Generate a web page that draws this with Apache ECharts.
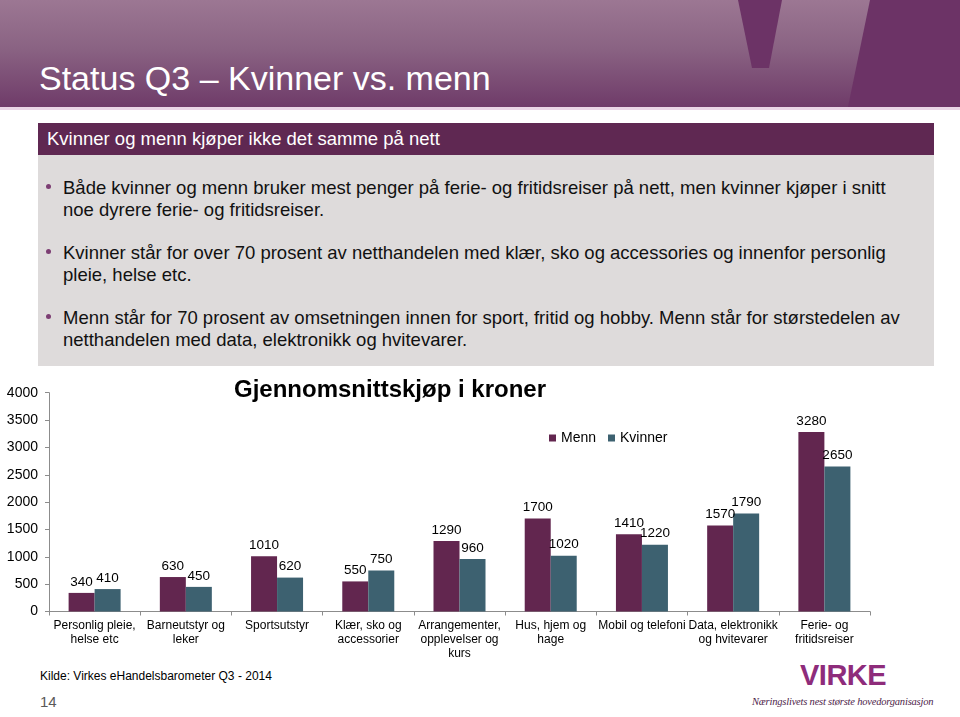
<!DOCTYPE html>
<html>
<head>
<meta charset="utf-8">
<script src="https://cdn.jsdelivr.net/npm/echarts@6/dist/echarts.min.js"></script>
<style>
  html, body { margin:0; padding:0; background:#fff; }
  body { width:960px; height:717px; position:relative; overflow:hidden; font-family:"Liberation Sans", Arial, sans-serif; }
  #hdr { position:absolute; left:0; top:0; width:960px; height:107px; background:linear-gradient(#9c7793 0%, #8a6383 45%, #6f3b69 100%); }
  #hdrline { position:absolute; left:0; top:107px; width:960px; height:3px; background:#ead5e6; }
  #shapes { position:absolute; left:0; top:0; }
  #htitle { position:absolute; left:39px; top:58px; font-size:34px; color:#fff; white-space:nowrap; line-height:40px; }
  #box { position:absolute; left:38px; top:123px; width:896px; height:243px; background:#dedbdb; }
  #boxhead { position:absolute; left:38px; top:123px; width:896px; height:32px; background:#5f2852; }
  #boxhead span { position:absolute; left:9px; top:5px; font-size:18.5px; color:#fff; white-space:nowrap; line-height:22px; }
  .bul { position:absolute; left:63px; font-size:18.5px; line-height:22px; color:#111; white-space:nowrap; }
  .dot { position:absolute; left:46px; width:5px; height:5px; border-radius:50%; background:#7c3e73; }
  #src { position:absolute; left:40px; top:669px; font-size:12px; color:#000; white-space:nowrap; }
  #pg { position:absolute; left:40px; top:693px; font-size:15px; color:#595959; }
  #logo { position:absolute; left:800px; top:659px; font-size:29px; font-weight:bold; color:#8e2c7b; letter-spacing:-0.5px; line-height:32px; }
  #tag { position:absolute; left:752px; top:696px; font-size:10.5px; font-style:italic; color:#4d2349; white-space:nowrap; font-family:"Liberation Serif", serif; letter-spacing:-0.2px; }
  #chart { position:absolute; left:0; top:0; width:960px; height:717px; }
</style>
</head>
<body>
<div id="hdr"></div>
<div id="hdrline"></div>
<svg id="shapes" width="960" height="110">
  <polygon points="738,0 782,0 769,68 752,68" fill="#6c3366"/>
  <polygon points="870,0 960,0 960,107 848,107" fill="#6c3366"/>
</svg>
<div id="htitle">Status Q3 – Kvinner vs. menn</div>
<div id="box"></div>
<div id="boxhead"><span>Kvinner og menn kjøper ikke det samme på nett</span></div>
<div class="dot" style="top:184px"></div>
<div class="bul" style="top:177px">Både kvinner og menn bruker mest penger på ferie- og fritidsreiser på nett, men kvinner kjøper i snitt<br>noe dyrere ferie- og fritidsreiser.</div>
<div class="dot" style="top:249px"></div>
<div class="bul" style="top:242px">Kvinner står for over 70 prosent av netthandelen med klær, sko og accessories og innenfor personlig<br>pleie, helse etc.</div>
<div class="dot" style="top:314px"></div>
<div class="bul" style="top:307px">Menn står for 70 prosent av omsetningen innen for sport, fritid og hobby. Menn står for størstedelen av<br>netthandelen med data, elektronikk og hvitevarer.</div>
<div id="src">Kilde: Virkes eHandelsbarometer Q3 - 2014</div>
<div id="pg">14</div>
<div id="logo">VIRKE</div>
<div id="tag">Næringslivets nest største hovedorganisasjon</div>
<div id="chart"></div>
<script>
const categories = [
  "Personlig pleie,\nhelse etc",
  "Barneutstyr og\nleker",
  "Sportsutstyr",
  "Klær, sko og\naccessorier",
  "Arrangementer,\nopplevelser og\nkurs",
  "Hus, hjem og\nhage",
  "Mobil og telefoni",
  "Data, elektronikk\nog hvitevarer",
  "Ferie- og\nfritidsreiser"
];
const menn = [340, 630, 1010, 550, 1290, 1700, 1410, 1570, 3280];
const kvinner = [410, 450, 620, 750, 960, 1020, 1220, 1790, 2650];
const chartTitle = "Gjennomsnittskjøp i kroner";
const seriesNames = ["Menn", "Kvinner"];

const font = "Liberation Sans";
const chart = echarts.init(document.getElementById('chart'), null, {renderer: 'canvas'});
chart.setOption({
  backgroundColor: 'transparent',
  animation: false,
  title: {
    text: chartTitle, left: 229, top: 373,
    textStyle: { fontFamily: font, fontSize: 24, fontWeight: 'bold', color: '#000' }
  },
  legend: {
    data: seriesNames, left: 544, top: 426, icon: 'rect',
    itemWidth: 7, itemHeight: 7, itemGap: 12,
    textStyle: { fontFamily: font, fontSize: 14, color: '#000' }
  },
  grid: { left: 49, right: 90, top: 392.7, bottom: 105.5, containLabel: false },
  xAxis: {
    type: 'category', data: categories,
    axisLine: { lineStyle: { color: '#8c8c8c' } },
    axisTick: { show: true, length: 4, lineStyle: { color: '#8c8c8c' } },
    axisLabel: { interval: 0, fontFamily: font, fontSize: 12, lineHeight: 14, color: '#000', margin: 7 }
  },
  yAxis: {
    type: 'value', min: 0, max: 4000, interval: 500,
    splitLine: { show: false },
    axisLine: { show: true, lineStyle: { color: '#8c8c8c' } },
    axisTick: { show: true, length: 4, lineStyle: { color: '#8c8c8c' } },
    axisLabel: { fontFamily: font, fontSize: 14, color: '#000', margin: 11, formatter: v => String(v) }
  },
  series: [
    {
      name: seriesNames[0], type: 'bar', data: menn, barWidth: 26, barGap: '0%',
      itemStyle: { color: '#62264f' },
      label: { show: true, position: 'top', distance: 4, fontFamily: font, fontSize: 13.5, color: '#000' }
    },
    {
      name: seriesNames[1], type: 'bar', data: kvinner, barWidth: 26, barGap: '0%',
      itemStyle: { color: '#3d6170' },
      label: { show: true, position: 'top', distance: 4, fontFamily: font, fontSize: 13.5, color: '#000' }
    }
  ]
});
</script>
</body>
</html>
